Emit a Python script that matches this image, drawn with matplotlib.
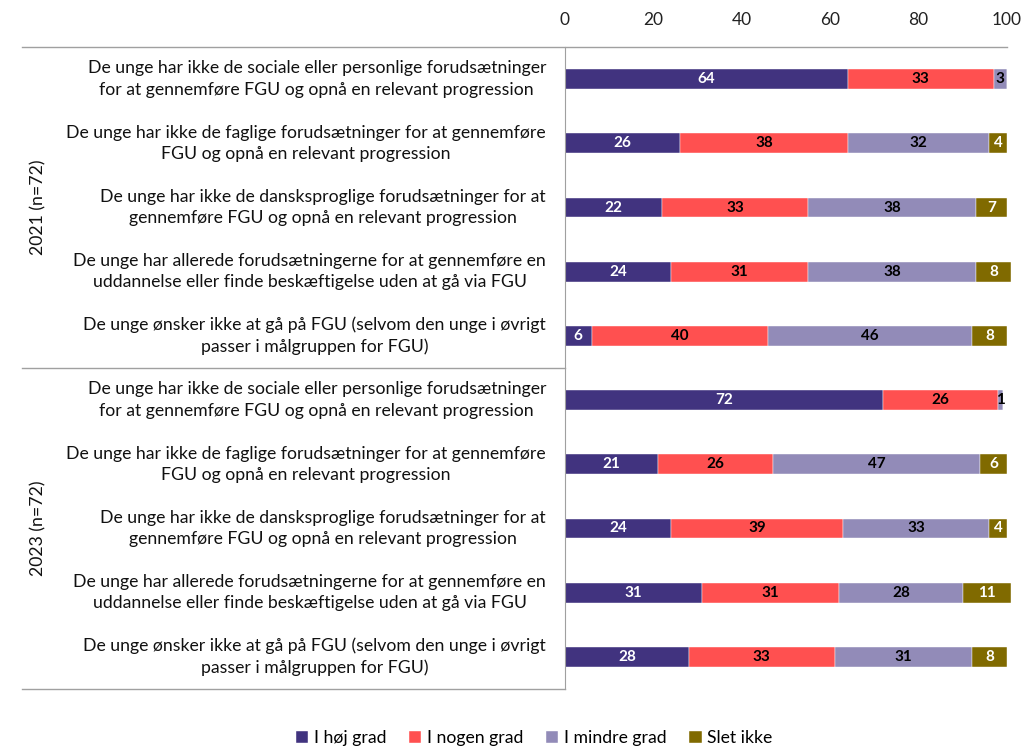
import matplotlib.pyplot as plt
import numpy as np
from matplotlib.lines import Line2D

plt.rcParams['font.family'] = ['Lato', 'DejaVu Sans']

statements = [
    'De unge har ikke de sociale eller personlige forudsætninger\nfor at gennemføre FGU og opnå en relevant progression',
    'De unge har ikke de faglige forudsætninger for at gennemføre\nFGU og opnå en relevant progression',
    'De unge har ikke de dansksproglige forudsætninger for at\ngennemføre FGU og opnå en relevant progression',
    'De unge har allerede forudsætningerne for at gennemføre en\nuddannelse eller finde beskæftigelse uden at gå via FGU',
    'De unge ønsker ikke at gå på FGU (selvom den unge i øvrigt\npasser i målgruppen for FGU)',
]
groups = ['2021 (n=72)', '2023 (n=72)']
series = ['I høj grad', 'I nogen grad', 'I mindre grad', 'Slet ikke']
colors = ['#41337f', '#ff5050', '#928bb8', '#806a00']
label_colors = ['white', 'black', 'black', 'white']

hoej = [64, 26, 22, 24, 6, 72, 21, 24, 31, 28]
nogen = [33, 38, 33, 31, 40, 26, 26, 39, 31, 33]
mindre = [3, 32, 38, 38, 46, 1, 47, 33, 28, 31]
slet = [0, 4, 7, 8, 8, 0, 6, 4, 11, 8]
values = np.array([hoej, nogen, mindre, slet])

fig = plt.figure(figsize=(10.23, 7.49), dpi=100)
ax = fig.add_axes([565 / 1023, 1 - 689 / 749, 442 / 1023, 642 / 749])

y = np.arange(len(hoej))
left = np.zeros(len(hoej))
for i, name in enumerate(series):
    bars = ax.barh(y, values[i], left=left, height=0.31, color=colors[i], label=name,
                   edgecolor='white', linewidth=0.3, clip_on=False)
    for b, v in zip(bars, values[i]):
        if v > 0:
            ax.text(b.get_x() + b.get_width() / 2, b.get_y() + b.get_height() / 2, str(v),
                    ha='center', va='center', fontsize=11, fontweight='bold', color=label_colors[i])
    left += values[i]

ax.set_xlim(0, 100)
ax.set_ylim(9.5, -0.5)
ax.xaxis.tick_top()
ax.set_xticks([0, 20, 40, 60, 80, 100])
ax.tick_params(axis='x', length=0, labelsize=12.5, pad=14, colors='#222222')
ax.set_yticks([])
for s in ['top', 'right', 'bottom']:
    ax.spines[s].set_visible(False)
ax.spines['left'].set_color('#a0a0a0')

# category labels, table style
for k in range(len(y)):
    fig.text(546 / 1023, 1 - (79 + 64.2 * k) / 749, statements[k % 5], ha='right', va='center',
             multialignment='center', fontsize=12.7, color='#111111', linespacing=1.4)
for g, name in enumerate(groups):
    fig.text(38 / 1023, 1 - (207 + 321 * g) / 749, name, rotation=90, ha='center', va='center',
             fontsize=12.7, color='#111111')

line_kw = dict(color='#a0a0a0', linewidth=1, transform=fig.transFigure)
fig.add_artist(Line2D([22 / 1023, 1007 / 1023], [1 - 47 / 749] * 2, **line_kw))
fig.add_artist(Line2D([22 / 1023, 565 / 1023], [1 - 368 / 749] * 2, **line_kw))
fig.add_artist(Line2D([22 / 1023, 565 / 1023], [1 - 689 / 749] * 2, **line_kw))

fig.legend(loc='center', bbox_to_anchor=(534 / 1023, 1 - 738 / 749), ncol=4, frameon=False,
           fontsize=12.7, handlelength=0.7, handleheight=0.7, handletextpad=0.3, columnspacing=1.3)

fig.savefig('out.png', dpi=100)
